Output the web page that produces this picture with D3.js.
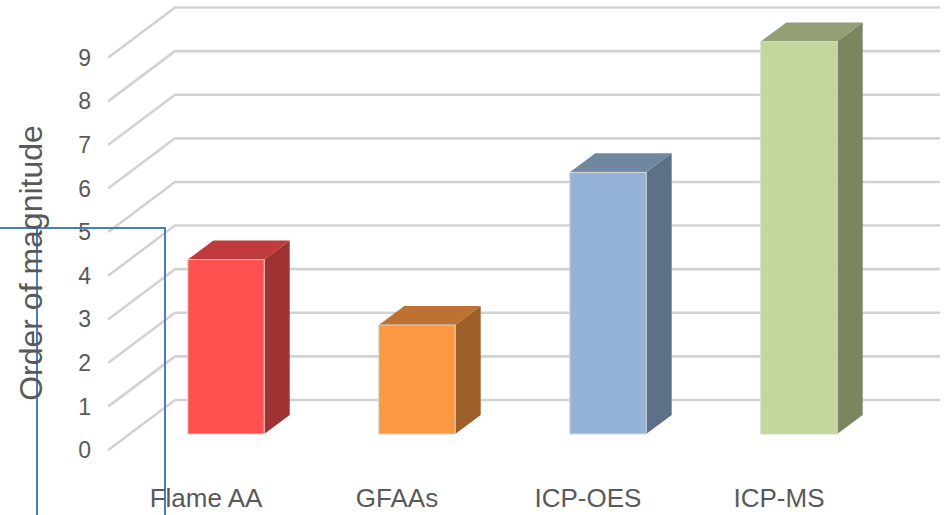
<!DOCTYPE html>
<html>
<head>
<meta charset="utf-8">
<script src="https://cdn.jsdelivr.net/npm/d3@7/dist/d3.min.js"></script>
<style>
html,body{margin:0;padding:0;background:#fff;overflow:hidden}
svg{display:block}
</style>
</head>
<body>
<script>
const categories = ["Flame AA", "GFAAs", "ICP-OES", "ICP-MS"];
const magnitudes = [4, 2.5, 6, 9];
const frontColors = ["#ff5050", "#fb9844", "#95b3d7", "#c3d69b"];
const topColors = ["#c03c3c", "#bd7233", "#7086a1", "#929f74"];
const sideColors = ["#9f3232", "#9d5f2a", "#5d7086", "#7a8660"];
const tickValues = [0, 1, 2, 3, 4, 5, 6, 7, 8, 9];
const yTitle = "Order of magnitude";

const width = 946, height = 515;
const wallDx = 66, wallDy = -49.5;   // floor depth, front edge to back wall
const barDx = 25.5, barDy = -19;     // depth of each 3-D column

const svg = d3.select("body").append("svg").attr("width", width).attr("height", height);

const y = d3.scaleLinear().domain([0, 9]).range([449.5, 57]);
const x = d3.scaleBand().domain(categories).range([130.5, 894.5]).paddingInner(0.6).paddingOuter(0.3);
const barBase = 434;
const barY = v => y(v) - (y(0) - barBase);

// Horizontal wall grid with its receding floor segment
const grid = svg.append("g");
grid.selectAll("path").data(tickValues).join("path")
  .attr("fill", "none").attr("stroke", "#d2d2d2").attr("stroke-width", 2.6)
  .attr("stroke-linecap", "round").attr("stroke-linejoin", "round")
  .attr("d", d => `M109,${y(d)}L${109 + wallDx},${y(d) + wallDy}H939`);

// Value axis: tick labels only
const axis = svg.append("g").attr("transform", "translate(91,0)")
  .call(d3.axisLeft(y).tickValues(tickValues).tickSize(0).tickFormat(d3.format("d")));
axis.select(".domain").remove();
axis.selectAll("text")
  .attr("x", 0).attr("dy", "0.36em").attr("fill", "#595959")
  .style("font", "23px 'Liberation Sans Narrow', 'Liberation Sans', sans-serif");

// Columns: front, top and side faces
const rows = categories.map((c, i) => ({c, i, v: magnitudes[i]}));
const bars = svg.append("g").selectAll("g").data(rows).join("g");
bars.append("path").attr("fill", d => sideColors[d.i])
  .attr("d", d => {
    const r = x(d.c) + x.bandwidth();
    return `M${r},${barY(d.v)}l${barDx},${barDy}V${barBase + barDy}l${-barDx},${-barDy}Z`;
  });
bars.append("path").attr("fill", d => topColors[d.i])
  .attr("d", d => `M${x(d.c)},${barY(d.v)}l${barDx},${barDy}h${x.bandwidth()}l${-barDx},${-barDy}Z`);
bars.append("rect").attr("fill", d => frontColors[d.i])
  .attr("stroke", "#d6d6d6").attr("stroke-width", 1)
  .attr("x", d => x(d.c)).attr("y", d => barY(d.v))
  .attr("width", x.bandwidth()).attr("height", d => barBase - barY(d.v));

// Overlaid blue selection frame
svg.append("path").attr("fill", "none").attr("stroke", "#4a7ebb").attr("stroke-width", 2)
  .attr("d", "M0,228H165V515M37,228V515");

// Category labels sit to the left of their columns
svg.append("g").selectAll("text").data(categories).join("text")
  .attr("x", d => x(d) + x.bandwidth() / 2 - 20)
  .attr("y", 507)
  .attr("text-anchor", "middle").attr("fill", "#595959")
  .style("font", "26px 'Liberation Sans', Arial, sans-serif")
  .text(d => d);

svg.append("text")
  .attr("transform", "translate(42,263) rotate(-90)")
  .attr("text-anchor", "middle").attr("fill", "#595959")
  .style("font", "32px 'Liberation Sans', Arial, sans-serif")
  .text(yTitle);
</script>
</body>
</html>
